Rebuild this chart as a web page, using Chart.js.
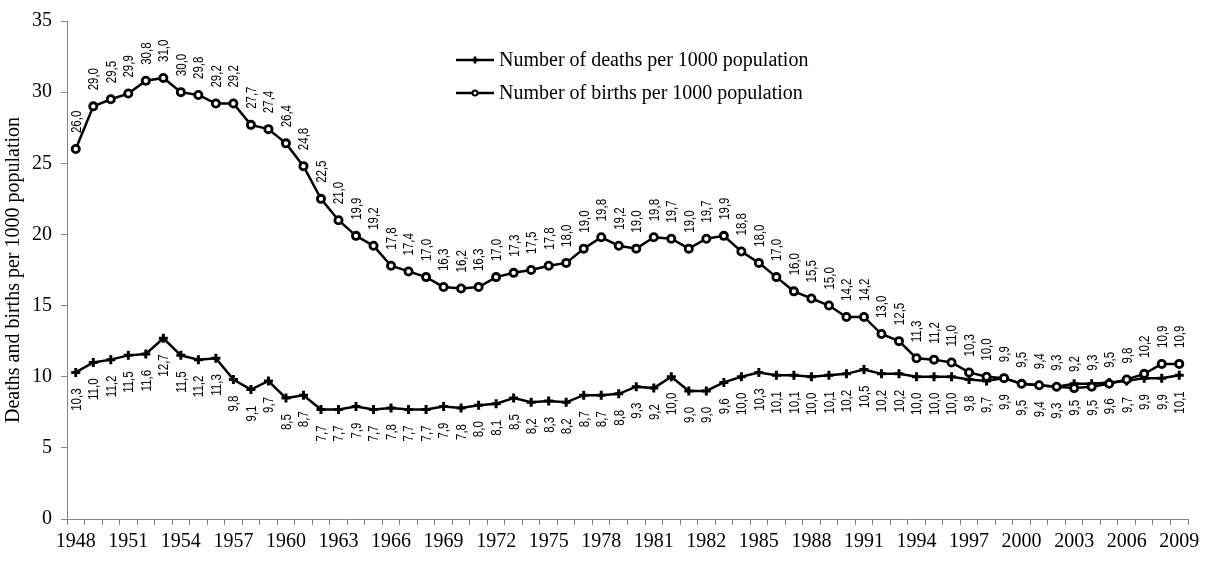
<!DOCTYPE html>
<html>
<head>
<meta charset="utf-8">
<script src="https://cdn.jsdelivr.net/npm/chart.js@4/dist/chart.umd.min.js"></script>
<style>
html,body{margin:0;padding:0;background:#fff;}
#wrap{width:1207px;height:563px;position:relative;}
</style>
</head>
<body>
<div id="wrap"><canvas id="c" width="1207" height="563"></canvas></div>
<script>
const years = [1948,1949,1950,1951,1952,1953,1954,1955,1956,1957,1958,1959,1960,1961,1962,1963,1964,1965,1966,1967,1968,1969,1970,1971,1972,1973,1974,1975,1976,1977,1978,1979,1980,1981,1980,1981,1982,1983,1984,1985,1986,1987,1988,1989,1990,1991,1992,1993,1994,1995,1996,1997,1998,1999,2000,2001,2002,2003,2004,2005,2006,2007,2008,2009];
const deaths = [10.3,11.0,11.2,11.5,11.6,12.7,11.5,11.2,11.3,9.8,9.1,9.7,8.5,8.7,7.7,7.7,7.9,7.7,7.8,7.7,7.7,7.9,7.8,8.0,8.1,8.5,8.2,8.3,8.2,8.7,8.7,8.8,9.3,9.2,10.0,9.0,9.0,9.6,10.0,10.3,10.1,10.1,10.0,10.1,10.2,10.5,10.2,10.2,10.0,10.0,10.0,9.8,9.7,9.9,9.5,9.4,9.3,9.5,9.5,9.6,9.7,9.9,9.9,10.1];
const births = [26.0,29.0,29.5,29.9,30.8,31.0,30.0,29.8,29.2,29.2,27.7,27.4,26.4,24.8,22.5,21.0,19.9,19.2,17.8,17.4,17.0,16.3,16.2,16.3,17.0,17.3,17.5,17.8,18.0,19.0,19.8,19.2,19.0,19.8,19.7,19.0,19.7,19.9,18.8,18.0,17.0,16.0,15.5,15.0,14.2,14.2,13.0,12.5,11.3,11.2,11.0,10.3,10.0,9.9,9.5,9.4,9.3,9.2,9.3,9.5,9.8,10.2,10.9,10.9];
const yTicks = [0,5,10,15,20,25,30,35];
const seriesNames = ["Number of deaths per 1000 population","Number of births per 1000 population"];
const yTitle = "Deaths and births per 1000 population";

const AXIS = '#868686';
const SERIF = '"Liberation Serif","Times New Roman",serif';

const valueLabels = {
  id: 'valueLabels',
  afterDatasetsDraw(chart) {
    const ctx = chart.ctx;
    ctx.save();
    ctx.fillStyle = '#000';
    ctx.font = '14px "Liberation Sans Narrow","Liberation Sans",sans-serif';
    ctx.textBaseline = 'middle';
    chart.data.datasets.forEach((ds, di) => {
      const meta = chart.getDatasetMeta(di);
      meta.data.forEach((pt, i) => {
        const txt = ds.data[i].toFixed(1).replace('.', ',');
        ctx.save();
        if (di === 1) {
          ctx.translate(pt.x + 1, pt.y - 16);
          ctx.rotate(-Math.PI / 2);
          ctx.scale(0.82, 1);
          ctx.textAlign = 'left';
        } else {
          ctx.translate(pt.x + 1, pt.y + 16);
          ctx.rotate(-Math.PI / 2);
          ctx.scale(0.82, 1);
          ctx.textAlign = 'right';
        }
        ctx.fillText(txt, 0, 0);
        ctx.restore();
      });
    });
    ctx.restore();
  }
};

const customLegend = {
  id: 'customLegend',
  afterDraw(chart) {
    const ctx = chart.ctx;
    ctx.save();
    const x0 = 456, x1 = 494, tx = 499;
    const rows = [60, 93];
    rows.forEach((y, i) => {
      ctx.strokeStyle = '#000';
      ctx.lineWidth = 2.5;
      ctx.beginPath();
      ctx.moveTo(x0, y); ctx.lineTo(x1, y);
      ctx.stroke();
      const cx = (x0 + x1) / 2;
      if (i === 0) {
        ctx.lineWidth = 2.5;
        ctx.beginPath();
        ctx.moveTo(cx - 3.5, y); ctx.lineTo(cx + 3.5, y);
        ctx.moveTo(cx, y - 3.5); ctx.lineTo(cx, y + 3.5);
        ctx.stroke();
      } else {
        ctx.fillStyle = '#fff';
        ctx.lineWidth = 2;
        ctx.beginPath();
        ctx.arc(cx, y, 2.5, 0, Math.PI * 2);
        ctx.fill(); ctx.stroke();
      }
      ctx.fillStyle = '#000';
      ctx.font = '20px ' + SERIF;
      ctx.textAlign = 'left';
      ctx.textBaseline = 'middle';
      ctx.fillText(seriesNames[i], tx, y + 1);
    });
    ctx.restore();
  }
};

new Chart(document.getElementById('c'), {
  type: 'line',
  data: {
    labels: years.map(String),
    datasets: [
      {
        label: seriesNames[0],
        data: deaths,
        borderColor: '#000',
        borderWidth: 2.5,
        pointStyle: 'cross',
        pointRadius: 4.5,
        pointBorderWidth: 3,
        pointBorderColor: '#000',
        pointBackgroundColor: '#000',
        tension: 0,
        order: 1
      },
      {
        label: seriesNames[1],
        data: births,
        borderColor: '#000',
        borderWidth: 2.5,
        pointStyle: 'circle',
        pointRadius: 3.6,
        pointBorderWidth: 2.8,
        pointBorderColor: '#000',
        pointBackgroundColor: '#fff',
        tension: 0,
        order: 0
      }
    ]
  },
  options: {
    responsive: false,
    animation: false,
    devicePixelRatio: 1,
    layout: { padding: { top: 17, right: 19, left: 0, bottom: 0 } },
    plugins: { legend: { display: false }, tooltip: { enabled: false } },
    scales: {
      x: {
        type: 'category',
        offset: true,
        grid: { display: true, offset: true, drawOnChartArea: false, drawTicks: true, tickLength: 6, color: AXIS, lineWidth: 1 },
        border: { display: true, color: AXIS, width: 1 },
        ticks: {
          autoSkip: false, maxRotation: 0, minRotation: 0, padding: 5,
          color: '#000', font: { family: SERIF, size: 20 },
          callback: function (v, i) { return i % 3 === 0 ? this.getLabelForValue(v) : ''; }
        },
        afterFit(s) { s.height = 44; }
      },
      y: {
        min: 0, max: 35,
        afterBuildTicks(s) { s.ticks = yTicks.map(v => ({ value: v })); },
        grid: { display: true, drawOnChartArea: false, drawTicks: true, tickLength: 6, color: AXIS },
        border: { display: true, color: AXIS, width: 1 },
        ticks: { padding: 9, color: '#000', font: { family: SERIF, size: 20 } },
        title: { display: true, text: yTitle, color: '#000', font: { family: SERIF, size: 20 }, padding: { top: 2, bottom: 0 } },
        afterFit(s) { s.width = 67; }
      }
    }
  },
  plugins: [valueLabels, customLegend]
});
</script>
</body>
</html>
